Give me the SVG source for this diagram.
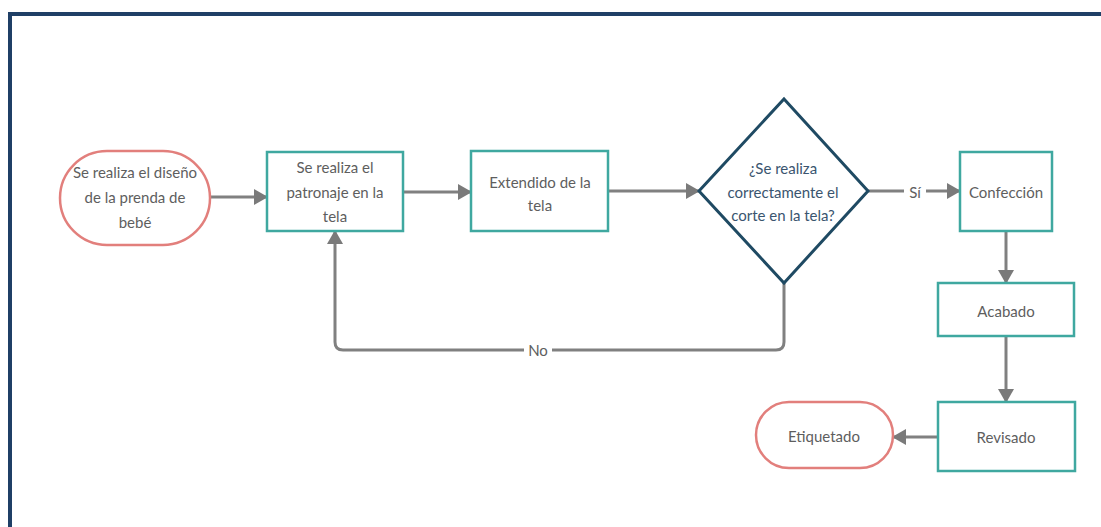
<svg xmlns="http://www.w3.org/2000/svg" width="1101" height="527" viewBox="0 0 1101 527">
<style>
.t{font-family:Lato,"Open Sans","Liberation Sans",sans-serif;font-size:15px;fill:#5e5e5e;text-anchor:middle}
.q{fill:#3a556f}
.box{fill:#fff;stroke:#3fa8a0;stroke-width:2.5}
.term{fill:#fff;stroke:#e27f7c;stroke-width:2.5}
.dec{fill:#fff;stroke:#1f4a63;stroke-width:3}
.c{fill:none;stroke:#808080;stroke-width:3}
.lbl{fill:#fff}
</style>
<defs>
<marker id="ah" markerUnits="userSpaceOnUse" markerWidth="14" markerHeight="16" refX="13" refY="8" orient="auto">
<path d="M0,0 L14,8 L0,16 Z" fill="#7a7a7a"/>
</marker>
</defs>
<rect width="1101" height="527" fill="#fff"/>
<path d="M10,527 V14 H1101" fill="none" stroke="#1f3f66" stroke-width="4"/>
<g id="connectors">
<path class="c" d="M210,197 H267" marker-end="url(#ah)"/>
<path class="c" d="M403,192 H471" marker-end="url(#ah)"/>
<path class="c" d="M608,191 H699" marker-end="url(#ah)"/>
<path class="c" d="M868,191 H960" marker-end="url(#ah)"/>
<rect class="lbl" x="904" y="182" width="22" height="20"/>
<text class="t" x="915" y="198">Sí</text>
<path class="c" d="M784,283 V342 Q784,350 776,350 H343 Q335,350 335,342 V231" marker-end="url(#ah)"/>
<rect class="lbl" x="524" y="340" width="28" height="20"/>
<text class="t" x="538" y="356">No</text>
<path class="c" d="M1006,231 V283" marker-end="url(#ah)"/>
<path class="c" d="M1006,336 V402" marker-end="url(#ah)"/>
<path class="c" d="M938,437 H893" marker-end="url(#ah)"/>
</g>
<g id="start">
<rect class="term" x="60" y="151" width="150" height="94" rx="47"/>
<text class="t" x="135" y="178">Se realiza el diseño</text>
<text class="t" x="135" y="203">de la prenda de</text>
<text class="t" x="135" y="228">bebé</text>
</g>
<g id="patronaje">
<rect class="box" x="267" y="152" width="136" height="79"/>
<text class="t" x="335" y="173">Se realiza el</text>
<text class="t" x="335" y="198">patronaje en la</text>
<text class="t" x="335" y="222">tela</text>
</g>
<g id="extendido">
<rect class="box" x="471" y="151" width="137" height="80"/>
<text class="t" x="540" y="188">Extendido de la</text>
<text class="t" x="540" y="211">tela</text>
</g>
<g id="decision">
<path class="dec" d="M784,99 L868,191 L784,283 L699,191 Z"/>
<text class="t q" x="783" y="174">¿Se realiza</text>
<text class="t q" x="783" y="198">correctamente el</text>
<text class="t q" x="783" y="221">corte en la tela?</text>
</g>
<g id="confeccion">
<rect class="box" x="960" y="152" width="92" height="79"/>
<text class="t" x="1006" y="198">Confección</text>
</g>
<g id="acabado">
<rect class="box" x="938" y="283" width="136" height="53"/>
<text class="t" x="1006" y="317">Acabado</text>
</g>
<g id="revisado">
<rect class="box" x="938" y="402" width="137" height="69"/>
<text class="t" x="1006" y="443">Revisado</text>
</g>
<g id="etiquetado">
<rect class="term" x="756" y="402" width="137" height="66" rx="33"/>
<text class="t" x="824" y="442">Etiquetado</text>
</g>
</svg>
